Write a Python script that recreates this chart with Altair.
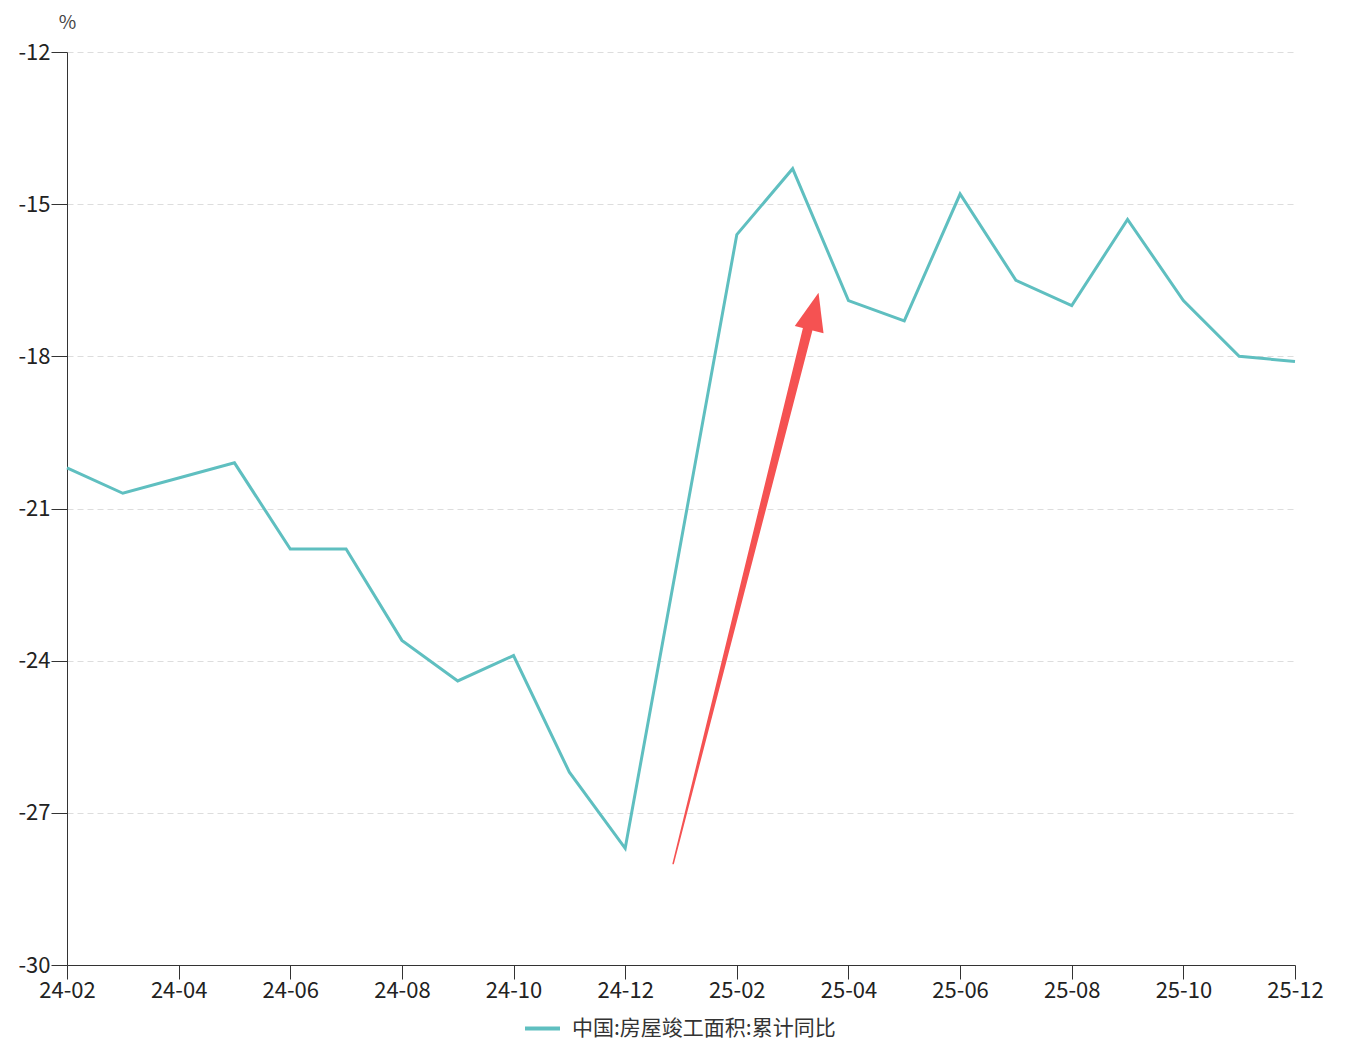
import altair as alt
import pandas as pd

months = ["24-02", "24-03", "24-04", "24-05", "24-06", "24-07", "24-08", "24-09",
          "24-10", "24-11", "24-12", "25-02", "25-03", "25-04", "25-05", "25-06",
          "25-07", "25-08", "25-09", "25-10", "25-11", "25-12"]
values = [-20.2, -20.7, -20.4, -20.1, -21.8, -21.8, -23.6, -24.4,
          -23.9, -26.2, -27.7, -15.6, -14.3, -16.9, -17.3, -14.8,
          -16.5, -17.0, -15.3, -16.9, -18.0, -18.1]
series_name = "中国:房屋竣工面积:累计同比"
tick_months = ["24-02", "24-04", "24-06", "24-08", "24-10", "24-12",
               "25-02", "25-04", "25-06", "25-08", "25-10", "25-12"]
y_ticks = [-12, -15, -18, -21, -24, -27, -30]

# annotation arrow (in month-index / value coordinates)
arrow_x = [10.86, 13.33]
arrow_y = [-28.0, -17.2]
arrow_w = [1.5, 10]
head_x = [13.38]
head_y = [-17.11]

FONT = "Noto Sans CJK SC"
TEAL = "#5fbfc0"
RED = "#f55252"


def month_index(m):
    # months counted from 24-02 on an even monthly axis
    return (int(m[:2]) - 24) * 12 + int(m[3:]) - 2


df = pd.DataFrame({"t": [month_index(m) for m in months], "value": values,
                   "series": series_name})
arrow_df = pd.DataFrame({"t": arrow_x, "value": arrow_y, "w": arrow_w})
head_df = pd.DataFrame({"t": head_x, "value": head_y})

x_vals = [month_index(m) for m in tick_months]
label_arr = "[" + ",".join("'" + m + "'" for m in tick_months) + "]"

x_enc = alt.X("t:Q", title=None,
              scale=alt.Scale(domain=[x_vals[0], x_vals[-1]], nice=False, zero=False),
              axis=alt.Axis(values=x_vals, labelExpr=label_arr + "[round(datum.value/2)]",
                            grid=False,
                            tickSize=14, labelPadding=1, labelFontSize=22,
                            labelColor="#222", labelFont=FONT,
                            domainColor="#333", tickColor="#333",
                            labelOverlap=False, labelFlush=False))
y_enc = alt.Y("value:Q",
              scale=alt.Scale(domain=[-30, -12], nice=False, zero=False),
              axis=alt.Axis(values=y_ticks, title="%", titleAngle=0,
                            titleAlign="center", titleX=0, titleY=-30,
                            titleBaseline="middle", titleFontSize=19,
                            titleFontWeight="normal", titleColor="#444",
                            titleFont=FONT,
                            labelExpr="datum.value + ''",
                            tickSize=16, labelPadding=1, labelFontSize=22,
                            labelColor="#222", labelFont=FONT,
                            domainColor="#333", tickColor="#333",
                            grid=True, gridColor="#dddddd", gridDash=[6, 4]))

line = alt.Chart(df).mark_line(strokeWidth=3).encode(
    x=x_enc, y=y_enc,
    color=alt.Color("series:N", title=None,
                    scale=alt.Scale(range=[TEAL]),
                    legend=alt.Legend(orient="none", legendX=456, legendY=957,
                                      symbolType="stroke", symbolSize=1225,
                                      symbolStrokeWidth=4, labelFontSize=21,
                                      labelFont=FONT, labelColor="#333",
                                      labelOffset=10, labelLimit=0)),
)

trail = alt.Chart(arrow_df).mark_trail(color=RED).encode(
    x=alt.X("t:Q"), y=alt.Y("value:Q"),
    size=alt.Size("w:Q", scale=None, legend=None),
)

head = alt.Chart(head_df).mark_point(
    shape="M0,-1L0.78,1L-0.78,1Z", filled=True, size=1444, angle=14.3,
    color=RED, opacity=1, strokeWidth=0,
).encode(x=alt.X("t:Q"), y=alt.Y("value:Q"))

chart = alt.layer(line, trail, head).properties(
    width=1228, height=913,
    autosize=alt.AutoSizeParams(type="none"),
    padding={"left": 59, "top": 44, "right": 45, "bottom": 80},
).configure_view(stroke=None)

chart.save("out.html", embed_options={"renderer": "svg", "actions": False})
